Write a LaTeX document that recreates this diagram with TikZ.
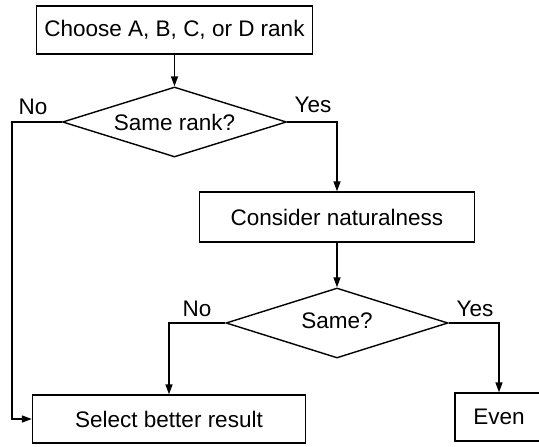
\documentclass[tikz,border=0pt]{standalone}
\usepackage{fontspec}
\setmainfont{Liberation Sans}
\usetikzlibrary{shapes.geometric,arrows.meta}
\begin{document}
\begin{tikzpicture}[x=1pt,y=-1pt,
  font=\fontsize{22.5}{26}\selectfont,
  every path/.style={line width=1.4pt},
  stepbox/.style={draw, rectangle, inner sep=0pt},
  decision/.style={draw, diamond, inner sep=0pt, shape aspect=3.2},
  arr/.style={-{Triangle[length=10pt,width=7pt]}},
  lbl/.style={inner sep=0pt}]
\useasboundingbox (0,0) rectangle (539,447);

% process boxes and decisions
\node[stepbox, minimum width=276pt, minimum height=48pt] (choose) at (174.5,30) {Choose A, B, C, or D rank};
\node[decision, minimum width=224pt, minimum height=70pt] (rank) at (174.5,122) {Same rank?};
\node[stepbox, minimum width=275pt, minimum height=50pt] (nat) at (337,217) {Consider naturalness};
\node[decision, minimum width=222pt, minimum height=70pt] (same) at (337,323) {\raisebox{5pt}{Same?}};
\node[stepbox, minimum width=273pt, minimum height=48pt] (select) at (169,419) {Select better result};
\node[stepbox, minimum width=88pt, minimum height=48pt] (even) at (499,417) {Even};

% connectors
\draw[arr] (choose.south) -- (rank.north);
\draw[arr] (rank.west) -- ++(-50,0) |- (select.west);
\draw[arr] (rank.east) -| (nat.north);
\draw[arr] (nat.south) -- (same.north);
\draw[arr] (same.west) -| (select.north);
\draw[arr] (same.east) -| (even.north);

% branch labels
\node[lbl] (no1) at (33,107) {No};
\node[lbl] (yes1) at (313,105) {Yes};
\node[lbl] (no2) at (197,309) {No};
\node[lbl] (yes2) at (475,309) {Yes};
\end{tikzpicture}
\end{document}
